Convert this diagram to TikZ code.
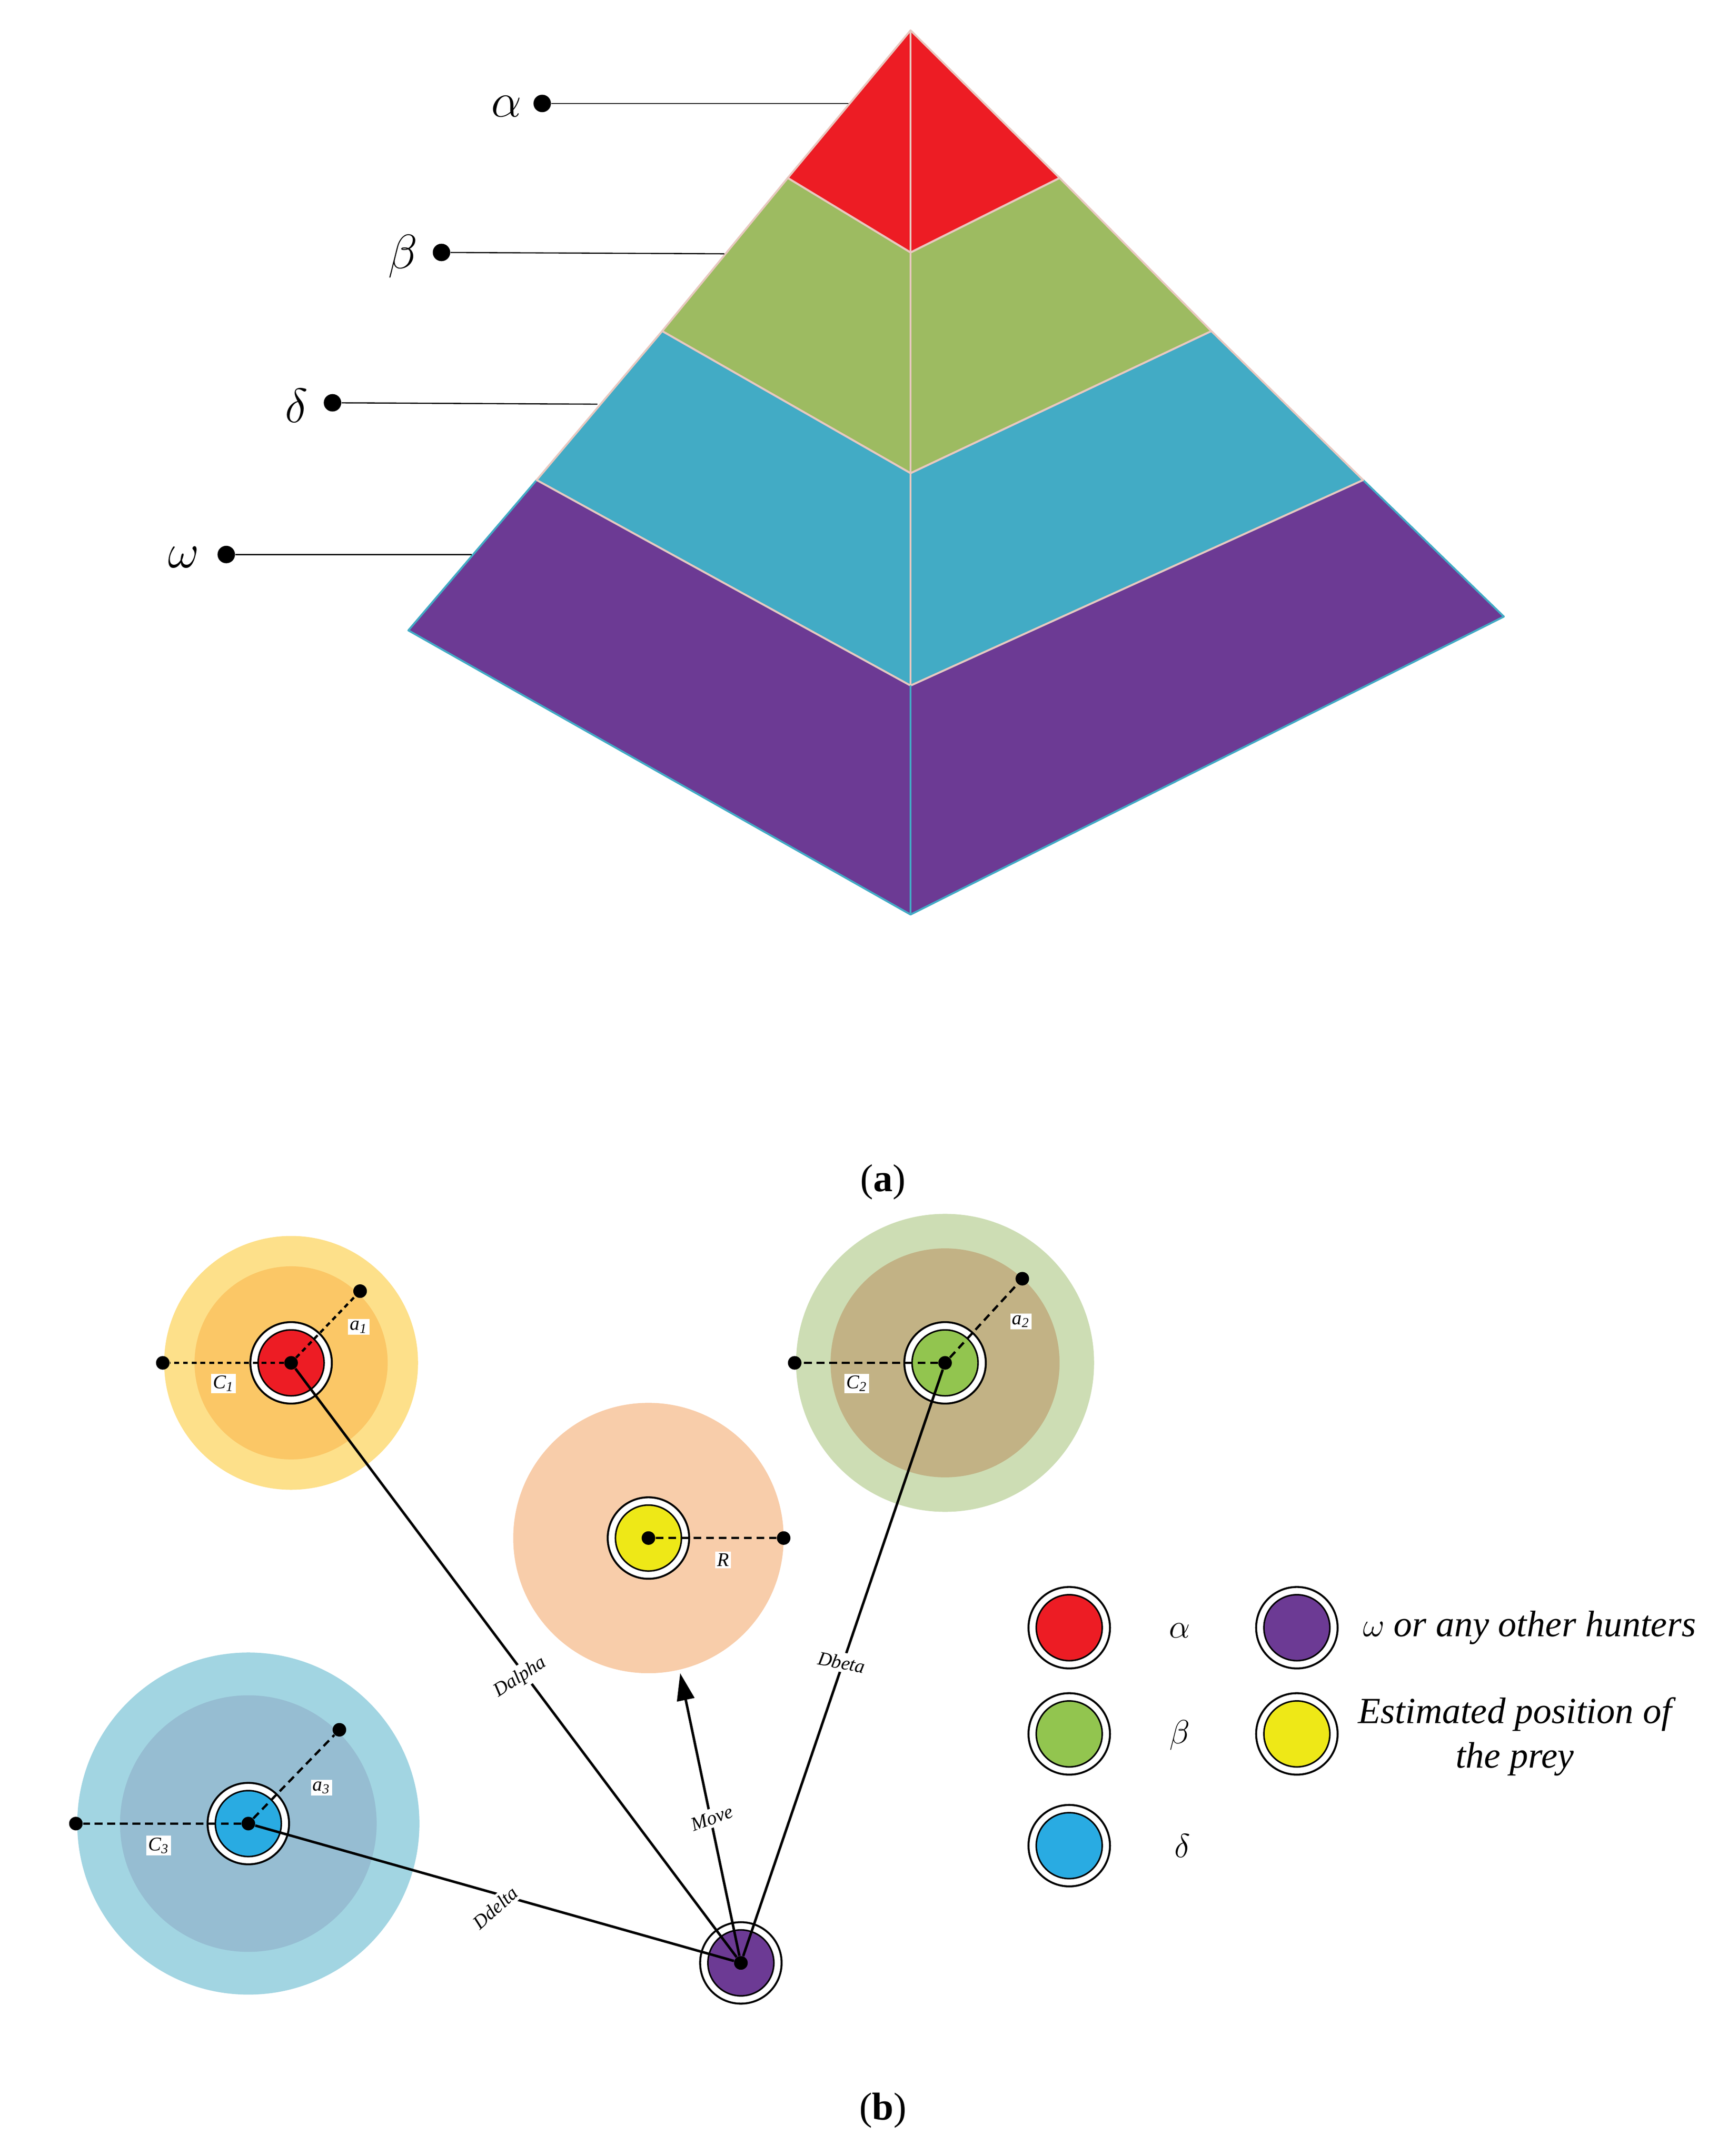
\documentclass[tikz,border=0pt]{standalone}
\usepackage{fontspec}
\setmainfont{Liberation Serif}
\usetikzlibrary{arrows.meta}
\definecolor{cred}{HTML}{ED1C24}
\definecolor{cgreen}{HTML}{9DBB61}
\definecolor{cblue}{HTML}{42ABC5}
\definecolor{cpurp}{HTML}{6C3A94}
\definecolor{edge}{HTML}{E8C8C0}
\definecolor{lgreen}{HTML}{92C54F}
\definecolor{lblue}{HTML}{29ABE2}
\definecolor{lyel}{HTML}{EEE817}
\tikzset{
 tier/.style={draw=edge,line width=1pt,line join=round},
 dot/.style={circle,fill=black,inner sep=0pt,minimum size=9pt},
 sdot/.style={circle,fill=black,inner sep=0pt,minimum size=7pt},
 lead/.style={line width=0.6pt},
 glbl/.style={font=\fontsize{24}{24}\selectfont},
 wolf/.style={circle,draw=black,line width=1pt,fill=white,minimum size=42pt,inner sep=0pt},
 core/.style={circle,draw=black,line width=0.8pt,fill=#1,minimum size=34pt,inner sep=0pt},
 dsh/.style={dashed,line width=1.2pt,dash pattern=on 4pt off 2.5pt},
 conn/.style={line width=1.3pt},
 small/.style={fill=white,inner sep=1pt,font=\itshape\fontsize{10}{10}\selectfont},
 dl/.style={fill=white,inner sep=1.5pt,font=\itshape\fontsize{10}{10}\selectfont},
 leg/.style={font=\itshape\fontsize{19}{23}\selectfont},
}
\begin{document}
\begin{tikzpicture}[x=0.025cm,y=-0.025cm]
\useasboundingbox (0,0) rectangle (1245,1563);
% pyramid
\coordinate (A) at (660,22);
\coordinate (rl) at (571,129); \coordinate (rr) at (768,129); \coordinate (rc) at (660,183);
\coordinate (gl) at (480,240); \coordinate (gr) at (878,240); \coordinate (gc) at (660,343);
\coordinate (bl) at (389,348); \coordinate (br) at (988,348); \coordinate (bc) at (660,497);
\coordinate (pl) at (296,457); \coordinate (pr) at (1090,447); \coordinate (pc) at (660,663);
\fill[cpurp,draw=cblue,line width=1pt,line join=round] (bl)--(bc)--(br)--(pr)--(pc)--(pl)--cycle;
\draw[tier,fill=cblue] (gl)--(gc)--(gr)--(br)--(bc)--(bl)--cycle;
\draw[tier,fill=cgreen] (rl)--(rc)--(rr)--(gr)--(gc)--(gl)--cycle;
\draw[tier,fill=cred] (A)--(rr)--(rc)--(rl)--cycle;
\draw[edge,line width=1pt] (A)--(bc);
\draw[cblue,line width=1pt] (bc)--(pc);
% labels
\node[glbl] (la) at (367,77) {$\alpha$}; \node[dot] (da) at (393,75) {}; \coordinate (ea) at (615,75);
\node[glbl] (lb) at (292,186) {$\beta$}; \node[dot] (db) at (320,183) {}; \coordinate (eb) at (525,184);
\node[glbl] (ld) at (215,294) {$\delta$}; \node[dot] (dd) at (241,292) {}; \coordinate (ed) at (433,293);
\node[glbl] (lw) at (133,404) {$\omega$}; \node[dot] (dw) at (164,402) {}; \coordinate (ew) at (342,402);
\draw[lead] (da)--(ea); \draw[lead] (db)--(eb); \draw[lead] (dd)--(ed); \draw[lead] (dw)--(ew);
\node[font=\fontsize{20}{20}\selectfont] (capa) at (640,857) {(\textbf{a})};
% part b: halos
\fill[fill={rgb,255:red,253;green,224;blue,138}] (211,988) circle (92);
\fill[fill={rgb,255:red,251;green,199;blue,102}] (211,988) circle (70);
\fill[fill={rgb,255:red,205;green,221;blue,180}] (685,988) circle (108);
\fill[fill={rgb,255:red,194;green,178;blue,133}] (685,988) circle (83);
\fill[fill={rgb,255:red,248;green,205;blue,170}] (470,1115) circle (98);
\fill[fill={rgb,255:red,162;green,213;blue,226}] (180,1322) circle (124);
\fill[fill={rgb,255:red,150;green,189;blue,210}] (180,1322) circle (93);
% wolves
\foreach \n/\x/\y/\c in {wa/211/988/cred, wb/685/988/lgreen, wp/470/1115/lyel, wd/180/1322/lblue, ww/537/1423/cpurp}{
  \node[wolf] (\n o) at (\x,\y) {};
  \node[core=\c] (\n) at (\x,\y) {};
  \node[sdot] (\n c) at (\x,\y) {};
}
% radius dots
\node[sdot] (a1l) at (118,988) {}; \node[sdot] (a1u) at (261,936) {};
\node[sdot] (b1l) at (576,988) {}; \node[sdot] (b1u) at (741,927) {};
\node[sdot] (pr1) at (568,1115) {};
\node[sdot] (d1l) at (55,1322) {}; \node[sdot] (d1u) at (246,1254) {};
\draw[dsh,dash pattern=on 2.5pt off 2pt] (wac)--(a1l); \draw[dsh,dash pattern=on 2.5pt off 2pt] (wac)--(a1u);
\draw[dsh] (wbc)--(b1l); \draw[dsh] (wbc)--(b1u);
\draw[dsh] (wpc)--(pr1);
\draw[dsh] (wdc)--(d1l); \draw[dsh] (wdc)--(d1u);
\node[small] (lc1) at (162,1003) {C\textsubscript{1}}; \node[small] (la1) at (260,962) {a\textsubscript{1}};
\node[small] (lc2) at (621,1003) {C\textsubscript{2}}; \node[small] (la2) at (740,958) {a\textsubscript{2}};
\node[small] (lr) at (524,1131) {R};
\node[small] (lc3) at (115,1338) {C\textsubscript{3}}; \node[small] (la3) at (233,1296) {a\textsubscript{3}};
% connectors
\coordinate (mv) at (493,1213);
\draw[conn] (wwc)--(wac);
\draw[conn] (wwc)--(wbc);
\draw[conn] (wwc)--(wdc);
\draw[conn,-{Triangle[length=14pt,width=9pt]}] (wwc)--(mv);
\node[dl,rotate=33] (tDa) at (377,1216) {Dalpha};
\node[dl,rotate=-11] (tDb) at (610,1205) {Dbeta};
\node[dl,rotate=42] (tDd) at (359,1383) {Ddelta};
\node[dl,rotate=20] (tMv) at (516,1318) {Move};
\node[sdot] at (wwc) {};
% legend
\foreach \n/\x/\y/\c in {ga/775/1180/cred, gb/775/1257/lgreen, gd/775/1338/lblue, gw/940/1180/cpurp, gp/940/1257/lyel}{
  \node[wolf] (\n o) at (\x,\y) {};
  \node[core=\c] (\n) at (\x,\y) {};
}
\node[leg] (ta) at (855,1182) {$\alpha$};
\node[leg] (tb) at (855,1258) {$\beta$};
\node[leg] (td) at (857,1338) {$\delta$};
\node[leg,anchor=west] (tw) at (983,1180) {$\omega$ or any other hunters};
\node[leg,align=center] (tp) at (1098,1259) {Estimated position of\\the prey};
\node[font=\fontsize{20}{20}\selectfont] (capb) at (640,1530) {(\textbf{b})};
\end{tikzpicture}
\end{document}
